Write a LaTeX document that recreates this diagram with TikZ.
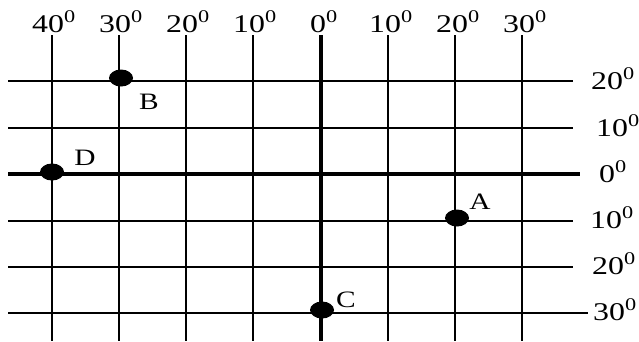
\documentclass[tikz,border=0pt]{standalone}
\usepackage{fontspec}
\setmainfont{Liberation Serif}
\usetikzlibrary{shapes.geometric}
\newcommand{\wide}[1]{\scalebox{1.25}[1]{#1}}
\newcommand{\dg}[1]{\wide{#1\textsuperscript{0}}}
\begin{document}
\begin{tikzpicture}[x=1pt,y=-1pt,
  gridline/.style={line width=1.7pt},
  axisline/.style={line width=3.2pt},
  lab/.style={inner sep=0pt,font=\fontsize{25.5}{25.5}\selectfont},
  ptlab/.style={inner sep=0pt,font=\fontsize{23.5}{23.5}\selectfont},
  dot/.style={ellipse,fill=black,minimum width=24pt,minimum height=17pt,inner sep=0pt}]
\useasboundingbox (0,0) rectangle (639,341);
% vertical lines
\foreach \x in {52,119,186,253,388,455,522}
  \draw[gridline] (\x,35) -- (\x,341);
\draw[axisline] (321,35) -- (321,341);
% horizontal lines
\foreach \y in {81,128,221,267}
  \draw[gridline] (8,\y) -- (573,\y);
\draw[gridline] (8,313) -- (588,313);
\draw[axisline] (8,174) -- (580,174);
% top labels
\node[lab,anchor=base] (t1) at (54,32) {\dg{40}};
\node[lab,anchor=base] (t2) at (121,32) {\dg{30}};
\node[lab,anchor=base] (t3) at (188,32) {\dg{20}};
\node[lab,anchor=base] (t4) at (255,32) {\dg{10}};
\node[lab,anchor=base] (t5) at (324,32) {\dg{0}};
\node[lab,anchor=base] (t6) at (391,32) {\dg{10}};
\node[lab,anchor=base] (t7) at (458,32) {\dg{20}};
\node[lab,anchor=base] (t8) at (525,32) {\dg{30}};
% right labels
\node[lab,anchor=base west] (r1) at (591,89) {\dg{20}};
\node[lab,anchor=base west] (r2) at (596,136) {\dg{10}};
\node[lab,anchor=base west] (r3) at (599,182) {\dg{0}};
\node[lab,anchor=base west] (r4) at (590,228) {\dg{10}};
\node[lab,anchor=base west] (r5) at (592,274) {\dg{20}};
\node[lab,anchor=base west] (r6) at (593,320) {\dg{30}};
% points
\node[dot] (B) at (121,78) {};
\node[dot] (D) at (52,172) {};
\node[dot] (A) at (457,218) {};
\node[dot] (C) at (322,310) {};
\node[ptlab] (lB) at (149,102) {\wide{B}};
\node[ptlab] (lD) at (85,158) {\wide{D}};
\node[ptlab] (lA) at (480,202) {\wide{A}};
\node[ptlab] (lC) at (346,300) {\wide{C}};
\end{tikzpicture}
\end{document}
